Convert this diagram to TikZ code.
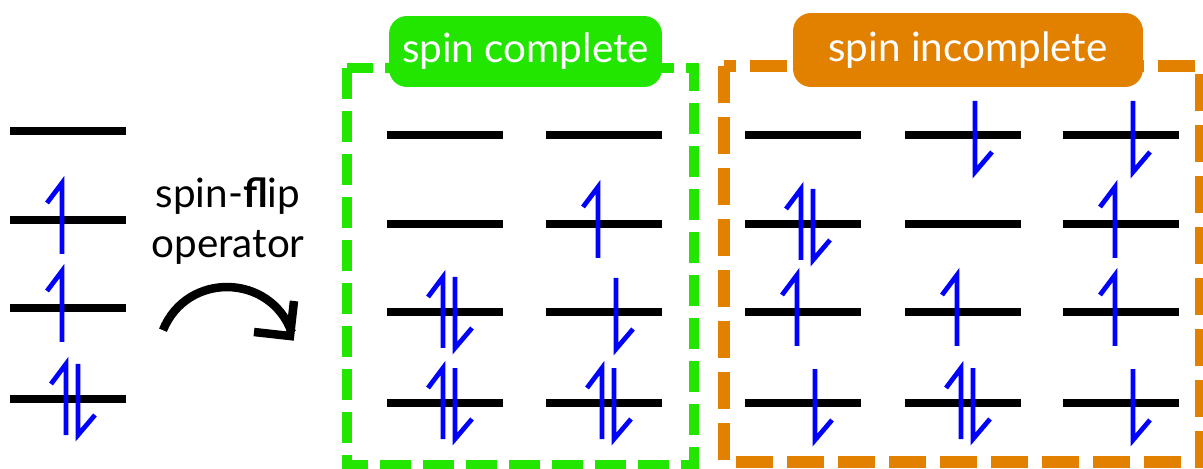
\documentclass[tikz,border=0pt]{standalone}
\usepackage{fontspec}
\setmainfont{Lato}
\usepackage{tikz}
\usepackage{xcolor}
\usetikzlibrary{arrows.meta, positioning}
\definecolor{spingreen}{RGB}{34,230,0}
\definecolor{spinorange}{RGB}{226,128,0}
\definecolor{spinblue}{RGB}{0,0,255}
% one level, and the electrons sitting on it
\newcommand{\lvl}[2]{\draw[orbital] (#1-58,#2) -- (#1+58,#2);}
\newcommand{\spinup}[2]{\draw[spinline] (#1-6,#2+34) -- (#1-6,#2-37) -- ++(-15,20);}
\newcommand{\spindn}[2]{\draw[spinline] (#1+12,#2-34) -- (#1+12,#2+37) -- ++(17,-20);}
\newcommand{\spinpair}[2]{\draw[spinline] (#1-2,#2+36) -- (#1-2,#2-35) -- ++(-15,20);
  \draw[spinline] (#1+10,#2-35) -- (#1+10,#2+36) -- ++(17,-20);}

\begin{document}
\begin{tikzpicture}[x=0.02cm, y=-0.02cm,
    orbital/.style={line width=0.15cm},
    spinline/.style={spinblue, line width=0.095cm},
    tag/.style={rounded corners=0.36cm, text=white, inner sep=0pt,
      font=\fontsize{23}{27}\selectfont},
    fliparrow/.style={line width=0.17cm}]
    \useasboundingbox (0,0) rectangle (1203,469);

    % Dashed frames
    \draw[spingreen, line width=0.2cm, dash pattern=on 0.62cm off 0.24cm] (347,68) rectangle (694,465);
    \draw[spinorange, line width=0.24cm, dash pattern=on 0.74cm off 0.28cm] (724,66) rectangle (1201,462);

    % Frame titles
    \node[tag, fill=spingreen, minimum width=5.46cm, minimum height=1.42cm] (complete) at (525.5,51.5) {spin complete};
    \node[tag, fill=spinorange, minimum width=7.0cm, minimum height=1.48cm] (incomplete) at (968,50) {spin incomplete};

    % Reference configuration
    \lvl{68}{131} \lvl{68}{220} \lvl{68}{308} \lvl{68}{399}
    \spinup{68}{220} \spinup{68}{308} \spinpair{68}{399}

    % Operator
    \node[align=center, font=\fontsize{23}{28.3}\selectfont] (fliplabel) at (228,221) {spin-\textbf{fl}ip\\operator};
    \coordinate (flipstart) at (163,330.2);
    \coordinate (flipend) at (291.8,332.4);
    \coordinate (fliptip) at (290,336);
    \draw[fliparrow] (flipstart) .. controls (186.7,271.6) and (270.2,273) .. (flipend);
    \draw[fliparrow] (fliptip) ++(-36,-4) -- (fliptip) -- ++(4,-35);

    % Spin complete
    \lvl{445}{135} \lvl{445}{224} \lvl{445}{312} \lvl{445}{403}
    \spinpair{445}{312} \spinpair{445}{403}
    \lvl{604}{135} \lvl{604}{224} \lvl{604}{312} \lvl{604}{403}
    \spinup{604}{224} \spindn{604}{312} \spinpair{604}{403}

    % Spin incomplete
    \lvl{803}{135} \lvl{803}{224} \lvl{803}{312} \lvl{803}{403}
    \spinpair{803}{224} \spinup{803}{312} \spindn{803}{403}
    \lvl{963}{135} \lvl{963}{224} \lvl{963}{312} \lvl{963}{403}
    \spindn{963}{135} \spinup{963}{312} \spinpair{963}{403}
    \lvl{1121}{135} \lvl{1121}{224} \lvl{1121}{312} \lvl{1121}{403}
    \spindn{1121}{135} \spinup{1121}{224} \spinup{1121}{312} \spindn{1121}{403}
\end{tikzpicture}
\end{document}
